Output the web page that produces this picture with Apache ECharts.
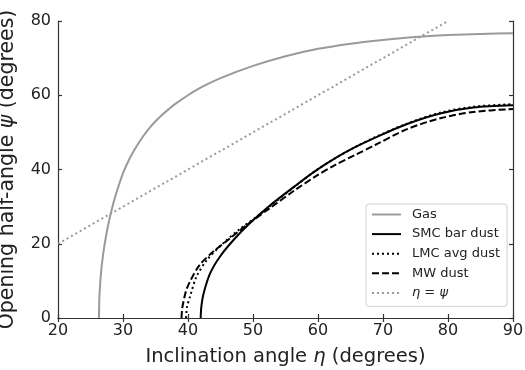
<!DOCTYPE html>
<html>
<head>
<meta charset="utf-8">
<script src="https://cdn.jsdelivr.net/npm/echarts@6/dist/echarts.min.js"></script>
<style>html,body{margin:0;padding:0;background:#fff}#c{width:525px;height:370px}</style>
</head>
<body>
<div id="c"></div>
<script>
// Data: [inclination eta, opening half-angle psi]
const gas = [[26.3,0],[26.35,4.8],[26.4,6.8],[26.5,9.6],[26.7,13.6],[27.0,17.9],[27.5,23.1],[28,27.3],[28.5,30.8],[29,33.8],[29.5,36.5],[30,39.0],[31,42.9],[32,46.0],[33,48.7],[34,51.0],[35,53.0],[36,54.7],[37,56.2],[38,57.6],[40,60.0],[42,62.1],[45,64.6],[50,67.9],[55,70.5],[60,72.5],[65,73.9],[70,74.9],[75,75.7],[80,76.2],[85,76.5],[90,76.7]];
const smcBar = [[41.95,0],[42.05,3],[42.4,6.6],[43.4,12],[44.9,16.5],[47,21],[49.5,25.5],[52.6,30.3],[56.5,35.6],[59.5,39.5],[62.6,43.0],[65.7,46.0],[68.8,48.6],[73.6,52.2],[78.8,55.1],[83.9,56.7],[90,57.3]];
const lmcAvg = [[39.7,0],[39.85,3],[40.3,5.7],[41.3,11.1],[42.9,15.6],[45.4,20.1],[48,24.0],[50.6,27.3],[52.6,30.1],[56.5,35.5],[59.5,39.5],[62.6,43.0],[65.7,46.0],[68.8,48.7],[73.6,52.3],[78.8,55.3],[83.9,56.9],[90,57.6]];
const mwDust = [[39,0],[39.1,2.5],[39.3,4.4],[39.7,7.3],[40.3,9.8],[41.8,14.3],[43.9,17.9],[46.5,21.5],[49,25.0],[52.6,29.6],[56.5,34.5],[59.5,38.0],[62.6,41.2],[65.7,43.9],[68.8,46.6],[73.6,50.8],[78.8,53.8],[83.9,55.5],[90,56.3]];
const etaEqPsi = [[20,20],[80,80]];
const seriesNames = ['Gas','SMC bar dust','LMC avg dust','MW dust','eta=psi'];
const xTicks = {min:20, max:90, interval:10};
const yTicks = {min:0, max:80, interval:20};

const FONT = 'DejaVu Sans';
const AX = '#333';
const chart = echarts.init(document.getElementById('c'), null, {renderer:'canvas'});
const axisCommon = {
  axisLine:{show:true, lineStyle:{color:AX, width:1.2}},
  axisTick:{show:true, inside:true, length:4, lineStyle:{color:AX, width:1.2}},
  splitLine:{show:false}
};
function nameStyle(sz){
  return {rich:{n:{fontFamily:FONT, fontSize:sz, color:'#222'}, i:{fontFamily:FONT, fontStyle:'italic', fontSize:sz, color:'#222'}}};
}
chart.setOption({
  animation:false,
  backgroundColor:'#fff',
  grid:{left:58, right:12, top:21, bottom:52, containLabel:false, outerBoundsMode:'none'},
  xAxis:[
    Object.assign({type:'value', position:'bottom', min:xTicks.min, max:xTicks.max, interval:xTicks.interval,
      axisLabel:{fontFamily:FONT, fontSize:16, color:'#222', margin:5},
      name:'{n|Inclination angle }{i|η}{n| (degrees)}', nameLocation:'middle', nameGap:29,
      nameTextStyle:nameStyle(19.5)
    }, axisCommon),
    Object.assign({type:'value', position:'top', min:xTicks.min, max:xTicks.max, interval:xTicks.interval,
      axisLabel:{show:false}}, axisCommon)
  ],
  yAxis:[
    Object.assign({type:'value', position:'left', min:yTicks.min, max:yTicks.max, interval:yTicks.interval,
      axisLabel:{fontFamily:FONT, fontSize:16, color:'#222', margin:7},
      name:'{n|Opening half-angle }{i|ψ}{n| (degrees)}', nameLocation:'middle', nameGap:40, nameRotate:90,
      nameTextStyle:nameStyle(20.5)
    }, axisCommon),
    Object.assign({type:'value', position:'right', min:yTicks.min, max:yTicks.max, interval:yTicks.interval,
      axisLabel:{show:false}}, axisCommon)
  ],
  legend:{
    orient:'vertical', left:366, top:204,
    data:seriesNames,
    itemWidth:29, itemHeight:14, itemGap:6.6,
    padding:[4,7,7,5],
    itemStyle:{opacity:0, borderWidth:0},
    borderColor:'#d0d0d0', borderWidth:1, borderRadius:3, backgroundColor:'rgba(255,255,255,0.85)',
    textStyle:{fontFamily:FONT, fontSize:13, color:'#222', padding:[0,0,0,6],
      rich:{n:{fontFamily:FONT, fontSize:13, color:'#222'}, i:{fontFamily:FONT, fontStyle:'italic', fontSize:13, color:'#222'}}},
    formatter:function(name){ return name==='eta=psi' ? '{i|η} {n|=} {i|ψ}' : name; }
  },
  series:[
    {name:seriesNames[0], type:'line', data:gas, showSymbol:false, symbol:'none', smooth:0.2, lineStyle:{color:'#9a9a9a', width:2}, itemStyle:{color:'#9a9a9a'}},
    {name:seriesNames[1], type:'line', data:smcBar, showSymbol:false, symbol:'none', smooth:0.3, lineStyle:{color:'#000', width:2}, itemStyle:{color:'#000'}},
    {name:seriesNames[2], type:'line', data:lmcAvg, showSymbol:false, symbol:'none', smooth:0.3, lineStyle:{color:'#000', width:2, type:[2,3]}, itemStyle:{color:'#000'}},
    {name:seriesNames[3], type:'line', data:mwDust, showSymbol:false, symbol:'none', smooth:0.3, lineStyle:{color:'#000', width:2, type:[7,3]}, itemStyle:{color:'#000'}},
    {name:seriesNames[4], type:'line', data:etaEqPsi, showSymbol:false, symbol:'none', lineStyle:{color:'#9a9a9a', width:2, type:[2,3]}, itemStyle:{color:'#9a9a9a'}}
  ]
});
</script>
</body>
</html>
